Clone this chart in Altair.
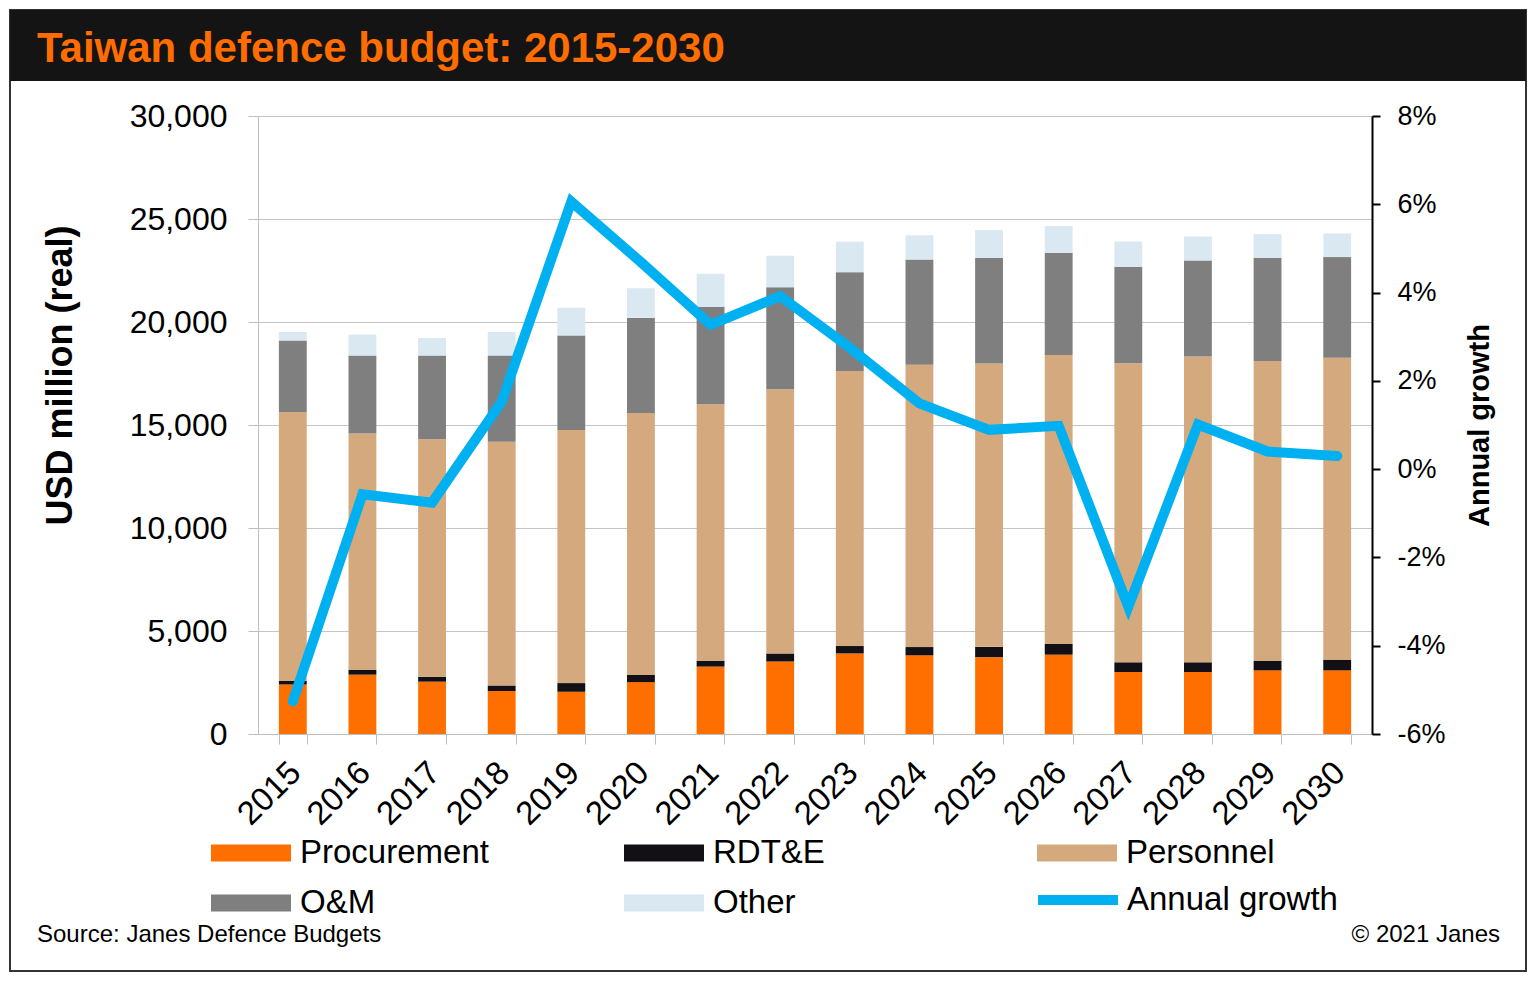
import altair as alt
import pandas as pd

# ---------------- data (USD million, real) ----------------
years = [str(y) for y in range(2015, 2031)]
components = ["Procurement", "RDT&E", "Personnel", "O&M", "Other"]
colors = ["#FF6F00", "#121014", "#D4A97E", "#7F7F7F", "#DAE8F2"]

procurement = [2400, 2880, 2540, 2090, 2050, 2520, 3270, 3520, 3910, 3820, 3730, 3850, 3010, 3010, 3090, 3090]
rdte = [175, 230, 240, 260, 420, 350, 290, 390, 360, 400, 500, 520, 470, 470, 470, 520]
personnel = [13060, 11480, 11530, 11840, 12290, 12710, 12450, 12830, 13350, 13700, 13760, 14030, 14520, 14840, 14550, 14650]
om = [3470, 3780, 4060, 4180, 4590, 4620, 4730, 4950, 4800, 5110, 5120, 4960, 4680, 4670, 5010, 4890]
other = [410, 1020, 850, 1140, 1340, 1440, 1600, 1530, 1480, 1180, 1350, 1300, 1230, 1160, 1140, 1150]
growth = [-5.26, -0.57, -0.76, 1.53, 6.06, 4.69, 3.27, 3.92, 2.75, 1.49, 0.89, 0.98, -3.12, 1.01, 0.40, 0.30]
left_ticks = [0, 5000, 10000, 15000, 20000, 25000, 30000]
right_ticks = [-6, -4, -2, 0, 2, 4, 6, 8]

title_text = "Taiwan defence budget: 2015-2030"
source_text = "Source: Janes Defence Budgets"
copyright_text = "\u00a9 2021 Janes"
y_title = "USD million (real)"
y2_title = "Annual growth"

# ---------------- tables ----------------
series = [procurement, rdte, personnel, om, other]
rows = []
for i, (name, vals) in enumerate(zip(components, series)):
    for y, v in zip(years, vals):
        rows.append({"year": y, "component": name, "value": v, "idx": i})
bars_df = pd.DataFrame(rows)
growth_df = pd.DataFrame({"year": years, "growth": growth, "series": ["Annual growth"] * len(years)})

FONT = "Liberation Sans"
W, H = 1114, 618

x_enc = alt.X(
    "year:N",
    sort=years,
    scale=alt.Scale(paddingInner=0.6, paddingOuter=0.3),
    axis=alt.Axis(
        title=None, labelAngle=-45, labelFontSize=33, labelColor="black", labelFont=FONT,
        tickBand="extent", tickSize=10, tickColor="#BFBFBF", domainColor="#BFBFBF",
        grid=False, labelPadding=12, labelOffset=-9,
    ),
)

bars = alt.Chart(bars_df).mark_bar().encode(
    x=x_enc,
    y=alt.Y(
        "value:Q", stack="zero",
        scale=alt.Scale(domain=[0, 30000], nice=False),
        axis=alt.Axis(
            orient="left", values=left_ticks, labelExpr="format(datum.value, ',.0f')",
            labelFontSize=32, labelColor="black", labelFont=FONT, labelPadding=21,
            tickSize=10, tickColor="#BFBFBF", domainColor="#BFBFBF",
            grid=True, gridColor="#C4C4C4",
            title=y_title, titleFont=FONT, titleFontSize=36, titleFontWeight="bold", titleColor="black",
            titleAngle=-90, titleX=-187, titleY=259, titleAlign="center", titleBaseline="alphabetic",
        ),
    ),
    fill=alt.Fill(
        "component:N",
        scale=alt.Scale(domain=components, range=colors),
        legend=alt.Legend(
            title=None, orient="none", legendX=-47, legendY=727, direction="horizontal", columns=3,
            gridAlign="all", columnPadding=135, rowPadding=17, clipHeight=20,
            symbolType="M-1,-0.21H1V0.21H-1Z", symbolSize=6400, symbolStrokeWidth=0,
            labelFont=FONT, labelFontSize=33, labelColor="black", labelOffset=9, labelLimit=400, padding=0,
        ),
    ),
    order=alt.Order("idx:Q", sort="ascending"),
)

line = alt.Chart(growth_df).mark_line(strokeWidth=10, strokeCap="round").encode(
    x=alt.X("year:N", sort=years),
    y=alt.Y(
        "growth:Q",
        scale=alt.Scale(domain=[-6, 8], nice=False),
        axis=alt.Axis(
            orient="right", values=right_ticks, labelExpr="datum.value + '%'",
            labelFontSize=27, labelColor="black", labelFont=FONT, labelPadding=17,
            tickSize=8, tickColor="black", tickWidth=2, domainColor="black", domainWidth=2,
            grid=False,
            title=y2_title, titleFont=FONT, titleFontSize=29, titleFontWeight="bold", titleColor="black",
            titleAngle=-90, titleX=116, titleY=309, titleAlign="center", titleBaseline="alphabetic",
        ),
    ),
    stroke=alt.Stroke(
        "series:N",
        scale=alt.Scale(domain=["Annual growth"], range=["#00B0F0"]),
        legend=alt.Legend(
            title=None, orient="none", legendX=775, legendY=774, clipHeight=20,
            symbolType="stroke", symbolSize=6400, symbolStrokeWidth=10,
            labelFont=FONT, labelFontSize=33, labelColor="black", labelOffset=4, labelLimit=400, padding=0,
        ),
    ),
)

one = alt.Data(values=[{"t": title_text, "s": source_text, "c": copyright_text}])

frame = alt.Chart(one).mark_rect(fillOpacity=0, stroke="#333333", strokeWidth=2).encode(
    x=alt.value(-248), x2=alt.value(1268), y=alt.value(-106), y2=alt.value(855)
)
header = alt.Chart(one).mark_rect(fill="#141414").encode(
    x=alt.value(-248), x2=alt.value(1268), y=alt.value(-106), y2=alt.value(-35)
)
title = alt.Chart(one).mark_text(
    font=FONT, fontSize=42, fontWeight="bold", color="#FF6D00", align="left", baseline="alphabetic"
).encode(x=alt.value(-221), y=alt.value(-54), text="t:N")
source = alt.Chart(one).mark_text(
    font=FONT, fontSize=24, color="black", align="left", baseline="alphabetic"
).encode(x=alt.value(-221), y=alt.value(826), text="s:N")
copyright_ = alt.Chart(one).mark_text(
    font=FONT, fontSize=24, color="black", align="right", baseline="alphabetic"
).encode(x=alt.value(1242), y=alt.value(826), text="c:N")

chart = (
    alt.layer(frame, header, bars, line, title, source, copyright_)
    .resolve_scale(y="independent", fill="independent", stroke="independent")
    .properties(
        width=W, height=H,
        autosize=alt.AutoSizeParams(type="none"),
        padding={"left": 250, "top": 108, "right": 156, "bottom": 245},
        background="white",
    )
    .configure_view(stroke=None)
)

chart.save("out.html", embed_options={"renderer": "svg", "actions": False})
